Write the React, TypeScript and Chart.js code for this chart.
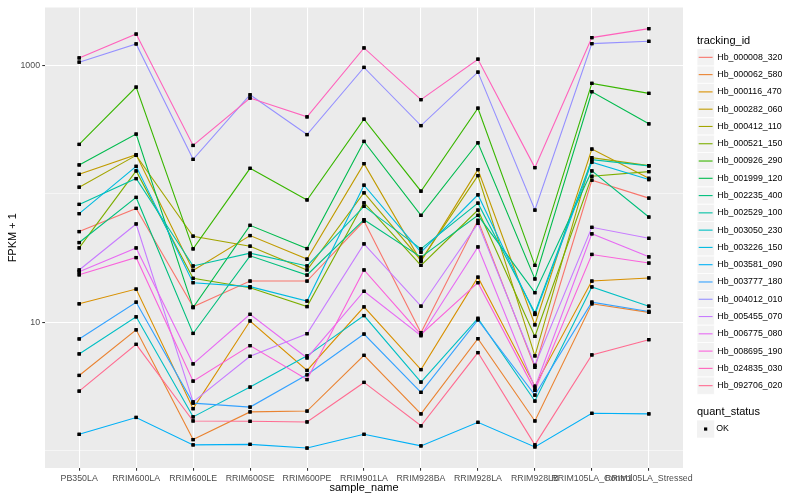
import React, { useEffect, useRef } from "react";
import { Chart, registerables } from "chart.js";

Chart.register(...registerables);

const categories = [
  "PB350LA", "RRIM600LA", "RRIM600LE", "RRIM600SE", "RRIM600PE", "RRIM901LA",
  "RRIM928BA", "RRIM928LA", "RRIM928LB", "RRIM105LA_Control", "RRIM105LA_Stressed",
];

const trackingIds = [
  "Hb_000008_320", "Hb_000062_580", "Hb_000116_470", "Hb_000282_060", "Hb_000412_110",
  "Hb_000521_150", "Hb_000926_290", "Hb_001999_120", "Hb_002235_400", "Hb_002529_100",
  "Hb_003050_230", "Hb_003226_150", "Hb_003581_090", "Hb_003777_180", "Hb_004012_010",
  "Hb_005455_070", "Hb_006775_080", "Hb_008695_190", "Hb_024835_030", "Hb_092706_020",
];

const seriesColors = [
  "#F8766D", "#EA8331", "#D89000", "#C09B00", "#A3A500", "#7CAE00", "#39B600", "#00BB4E",
  "#00BF7D", "#00C1A3", "#00BFC4", "#00BAE0", "#00B0F6", "#35A2FF", "#9590FF", "#C77CFF",
  "#E76BF3", "#FA62DB", "#FF62BC", "#FF6C91",
];

// FPKM + 1 per sample, in the order of `categories`
const hb000008_320 = [50.9, 77.2, 13.15, 20.9, 20.9, 61.5, 8.26, 62.3, 4.44, 128, 92.8];
const hb000062_580 = [3.83, 8.71, 1.21, 1.99, 2.02, 5.5, 1.92, 7.42, 1.69, 13.9, 11.9];
const hb000116_470 = [13.9, 18.1, 2.11, 10.2, 4.19, 13.15, 4.26, 22.4, 3.16, 20.9, 22.1];
const hb000282_060 = [142.5, 202.6, 25.3, 47.4, 31.0, 172.5, 29.8, 155, 9.53, 224.4, 132.6];
const hb000412_110 = [112.9, 200.1, 46.8, 39.1, 25.5, 102.2, 30.4, 139.2, 5.45, 192, 166.4];
const hb000521_150 = [37.9, 151.4, 21.96, 18.56, 13.22, 85.4, 27.7, 74.9, 7.73, 137.4, 149.5];
const hb000926_290 = [243.6, 683, 37.3, 158.6, 89.8, 383.5, 105.1, 467, 27.7, 730, 610];
const hb001999_120 = [168.5, 293.4, 12.98, 56.9, 37.5, 257, 68.1, 251, 21.7, 628, 352.7];
const hb002235_400 = [41.8, 94.0, 8.15, 32.9, 23.3, 63.0, 32.1, 68.1, 16.97, 151.4, 66.1];
const hb002529_100 = [82.9, 131.9, 27.4, 34.5, 27.4, 80.0, 37.3, 84.8, 11.8, 185.3, 165.6];
const hb003050_230 = [5.64, 11.0, 1.82, 3.11, 5.45, 11.25, 3.4, 10.7, 2.42, 18.8, 13.3];
const hb003226_150 = [70.2, 164.4, 20.3, 18.9, 14.6, 117, 35.1, 98.6, 11.46, 177.2, 129.6];
const hb003581_090 = [1.33, 1.8, 1.1, 1.11, 1.04, 1.33, 1.08, 1.65, 1.06, 1.94, 1.92];
const hb003777_180 = [7.38, 14.3, 2.33, 2.17, 3.88, 8.07, 2.83, 10.4, 2.69, 14.3, 12.1];
const hb004012_010 = [1069, 1482, 186.3, 595, 291, 972, 342, 894, 74.9, 1492, 1555];
const hb005455_070 = [25.5, 58.3, 2.38, 5.41, 8.11, 40.8, 13.3, 59.0, 4.6, 54.9, 45.1];
const hb006775_080 = [24.7, 37.9, 4.72, 11.5, 5.25, 17.4, 7.83, 38.6, 3.07, 48.9, 32.3];
const hb008695_190 = [23.4, 31.9, 3.46, 6.55, 3.56, 25.5, 8.01, 20.3, 2.93, 33.7, 28.9];
const hb024835_030 = [1154, 1772, 239, 561, 400, 1380, 545, 1127, 160.6, 1662, 1952];
const hb092706_020 = [2.89, 6.7, 1.69, 1.68, 1.66, 3.38, 1.55, 5.78, 1.1, 5.54, 7.29];

const seriesValues = [
  hb000008_320, hb000062_580, hb000116_470, hb000282_060, hb000412_110,
  hb000521_150, hb000926_290, hb001999_120, hb002235_400, hb002529_100,
  hb003050_230, hb003226_150, hb003581_090, hb003777_180, hb004012_010,
  hb005455_070, hb006775_080, hb008695_190, hb024835_030, hb092706_020,
];

const yTickValues = [1, 10, 100, 1000];
const yMajorTicks = [10, 1000];
const quantStatus = ["OK"];

const FONT = '"Liberation Sans", Arial, Helvetica, sans-serif';

const panelBackground = {
  id: "panelBackground",
  beforeDraw(chart: any) {
    const { ctx, chartArea: a } = chart;
    ctx.save();
    ctx.fillStyle = "#EBEBEB";
    ctx.fillRect(a.left, a.top, a.right - a.left, a.bottom - a.top);
    ctx.restore();
  },
};

const pointsOnTop = {
  id: "pointsOnTop",
  afterDatasetsDraw(chart: any) {
    const ctx = chart.ctx;
    chart.getSortedVisibleDatasetMetas().forEach((meta: any) => {
      meta.data.forEach((el: any) => el.draw(ctx, chart.chartArea));
    });
  },
};

const ggLegend = {
  id: "ggLegend",
  afterDraw(chart: any) {
    const ctx = chart.ctx;
    const x0 = chart.chartArea.right + 14;
    const key = 17.28;
    const firstTop = 48.7;
    ctx.save();
    ctx.textAlign = "left";
    ctx.textBaseline = "middle";
    ctx.fillStyle = "#000000";
    ctx.font = `11px ${FONT}`;
    ctx.fillText("tracking_id", x0, 40.5);
    trackingIds.forEach((id, i) => {
      const top = firstTop + i * key;
      ctx.fillStyle = "#F2F2F2";
      ctx.fillRect(x0, top, key, key);
      ctx.strokeStyle = "#FFFFFF";
      ctx.lineWidth = 0.8;
      ctx.strokeRect(x0, top, key, key);
      ctx.strokeStyle = seriesColors[i];
      ctx.lineWidth = 1.1;
      ctx.beginPath();
      ctx.moveTo(x0 + 1.7, top + key / 2);
      ctx.lineTo(x0 + key - 1.7, top + key / 2);
      ctx.stroke();
      ctx.fillStyle = "#000000";
      ctx.font = `8.8px ${FONT}`;
      ctx.fillText(id, x0 + key + 3, top + key / 2);
    });
    ctx.font = `11px ${FONT}`;
    ctx.fillStyle = "#000000";
    ctx.fillText("quant_status", x0, 412.3);
    quantStatus.forEach((s, i) => {
      const top = 420.4 + i * key;
      ctx.fillStyle = "#F2F2F2";
      ctx.fillRect(x0, top, key, key);
      ctx.fillStyle = "#000000";
      ctx.fillRect(x0 + key / 2 - 1.6, top + key / 2 - 1.6, 3.2, 3.2);
      ctx.font = `8.8px ${FONT}`;
      ctx.fillText(s, x0 + key + 2, top + key / 2);
    });
    ctx.restore();
  },
};

export default function App() {
  const canvasRef = useRef<HTMLCanvasElement | null>(null);

  useEffect(() => {
    if (!canvasRef.current) return;
    const n = trackingIds.length;
    const chart = new Chart(canvasRef.current, {
      type: "line",
      data: {
        datasets: trackingIds.map((id, i) => ({
          label: id,
          data: seriesValues[i].map((v, j) => ({ x: j, y: v })),
          borderColor: seriesColors[i],
          backgroundColor: "#000000",
          borderWidth: 1.1,
          pointStyle: "rect",
          pointRadius: 2.3,
          pointBorderWidth: 0,
          pointBackgroundColor: "#000000",
          pointBorderColor: "#000000",
          tension: 0,
          fill: false,
          order: n - 1 - i,
        })),
      },
      options: {
        animation: false,
        responsive: true,
        maintainAspectRatio: false,
        events: [],
        layout: { padding: { left: 0, top: 5, right: 117, bottom: 0 } },
        plugins: {
          legend: { display: false },
          tooltip: { enabled: false },
        },
        scales: {
          x: {
            type: "linear",
            min: -0.6,
            max: categories.length - 1 + 0.6,
            afterBuildTicks: (scale: any) => {
              scale.ticks = categories.map((_, i) => ({ value: i }));
            },
            afterFit: (scale: any) => {
              scale.height = 32;
            },
            border: { display: false },
            grid: {
              color: "#FFFFFF",
              lineWidth: 1.07,
              tickColor: "#333333",
              tickWidth: 1.07,
              tickLength: 2.75,
            },
            ticks: {
              autoSkip: false,
              maxRotation: 0,
              minRotation: 0,
              padding: 2.2,
              color: "#4D4D4D",
              font: { family: FONT, size: 8.8 },
              callback: (value: any) => categories[Math.round(Number(value))] ?? "",
            },
            title: {
              display: true,
              text: "sample_name",
              color: "#000000",
              font: { family: FONT, size: 11 },
              padding: { top: 0, bottom: 5 },
            },
          },
          y: {
            type: "logarithmic",
            min: 0.726,
            max: 2856,
            bounds: "data",
            afterBuildTicks: (scale: any) => {
              scale.ticks = yTickValues.map((v) => ({ value: v }));
            },
            afterFit: (scale: any) => {
              scale.width = 45;
            },
            border: { display: false },
            grid: {
              color: "#FFFFFF",
              lineWidth: (c: any) => (yMajorTicks.includes(c.tick?.value) ? 1.07 : 0.53),
              tickColor: (c: any) => (yMajorTicks.includes(c.tick?.value) ? "#333333" : "rgba(0,0,0,0)"),
              tickWidth: 1.07,
              tickLength: 2.75,
            },
            ticks: {
              padding: 2.2,
              color: "#4D4D4D",
              font: { family: FONT, size: 8.8 },
              callback: (value: any) => (yMajorTicks.includes(Number(value)) ? String(value) : ""),
            },
            title: {
              display: true,
              text: "FPKM + 1",
              color: "#000000",
              font: { family: FONT, size: 11 },
              padding: { top: 6, bottom: 0 },
            },
          },
        },
      },
      plugins: [panelBackground, pointsOnTop, ggLegend],
    } as any);
    return () => chart.destroy();
  }, []);

  return (
    <div style={{ position: "fixed", left: 0, top: 0, width: 800, height: 500, background: "#FFFFFF" }}>
      <canvas ref={canvasRef} />
    </div>
  );
}
